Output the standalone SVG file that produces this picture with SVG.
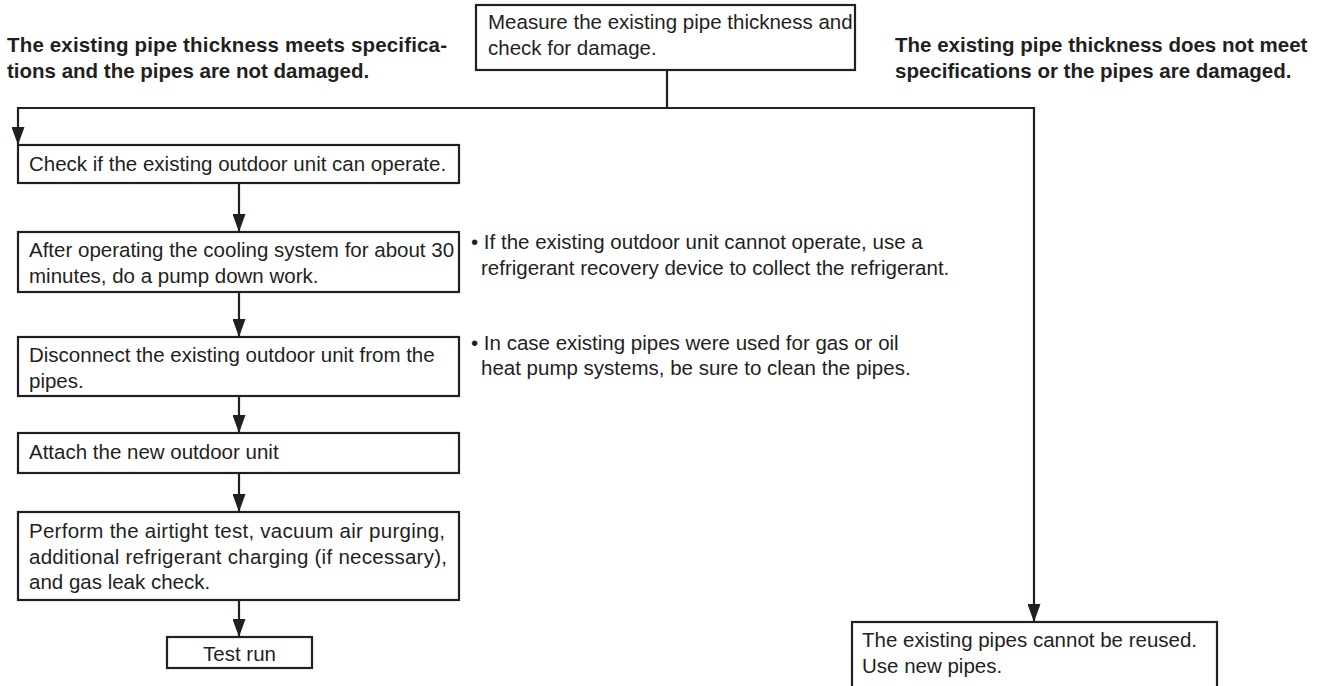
<svg xmlns="http://www.w3.org/2000/svg" width="1319" height="686" viewBox="0 0 1319 686">
<defs>
<style>
.box{fill:#fff;stroke:#231f20;stroke-width:2.2}
.t{font-family:"Liberation Sans",Arial,sans-serif;font-size:20.5px;fill:#231f20}
.h{font-family:"Liberation Sans",Arial,sans-serif;font-size:20.5px;font-weight:bold;fill:#231f20}
.c{fill:none;stroke:#231f20;stroke-width:2.2}
</style>
<marker id="ah" markerWidth="18" markerHeight="13" refX="18" refY="6.5" orient="auto" markerUnits="userSpaceOnUse" viewBox="0 0 18 13">
<path d="M0,0 L18,6.5 L0,13 Z" fill="#231f20"/>
</marker>
</defs>
<rect width="1319" height="686" fill="#fff"/>
<g id="header-left"><text class="h" x="7" y="52" textLength="440" lengthAdjust="spacing">The existing pipe thickness meets specifica-</text><text class="h" x="7" y="78">tions and the pipes are not damaged.</text></g>
<g id="header-right"><text class="h" x="895" y="52">The existing pipe thickness does not meet</text><text class="h" x="895" y="78">specifications or the pipes are damaged.</text></g>
<g id="connectors">
<path class="c" d="M667,70 V108"/>
<path class="c" d="M18,108 H1034"/>
<path class="c" d="M18,107 V145" marker-end="url(#ah)"/>
<path class="c" d="M1034,107 V622" marker-end="url(#ah)"/>
<path class="c" d="M239,183 V232" marker-end="url(#ah)"/>
<path class="c" d="M239,292 V337" marker-end="url(#ah)"/>
<path class="c" d="M239,396 V433" marker-end="url(#ah)"/>
<path class="c" d="M239,473 V512" marker-end="url(#ah)"/>
<path class="c" d="M239,600 V637" marker-end="url(#ah)"/>
</g>
<g id="measure"><rect class="box" x="476" y="5" width="379" height="65"/><text class="t" x="488" y="29">Measure the existing pipe thickness and</text><text class="t" x="488" y="55">check for damage.</text></g>
<g id="check"><rect class="box" x="18" y="145" width="441" height="38"/><text class="t" x="29" y="171">Check if the existing outdoor unit can operate.</text></g>
<g id="pumpdown"><rect class="box" x="18" y="232" width="441" height="60"/><text class="t" x="29" y="257">After operating the cooling system for about 30</text><text class="t" x="29" y="283">minutes, do a pump down work.</text></g>
<g id="disconnect"><rect class="box" x="18" y="337" width="441" height="59"/><text class="t" x="29" y="362">Disconnect the existing outdoor unit from the</text><text class="t" x="29" y="388">pipes.</text></g>
<g id="attach"><rect class="box" x="18" y="433" width="441" height="40"/><text class="t" x="29" y="459">Attach the new outdoor unit</text></g>
<g id="airtight"><rect class="box" x="18" y="512" width="441" height="88"/><text class="t" x="29" y="538" textLength="416" lengthAdjust="spacing">Perform the airtight test, vacuum air purging,</text><text class="t" x="29" y="564" textLength="418" lengthAdjust="spacing">additional refrigerant charging (if necessary),</text><text class="t" x="29" y="589">and gas leak check.</text></g>
<g id="testrun"><rect class="box" x="167" y="637" width="145" height="31"/><text class="t" x="239.5" y="661" text-anchor="middle">Test run</text></g>
<g id="note1"><text class="t" x="471" y="249">• If the existing outdoor unit cannot operate, use a</text><text class="t" x="481" y="275">refrigerant recovery device to collect the refrigerant.</text></g>
<g id="note2"><text class="t" x="471" y="350">• In case existing pipes were used for gas or oil</text><text class="t" x="481" y="375">heat pump systems, be sure to clean the pipes.</text></g>
<g id="newpipes"><rect class="box" x="852" y="622" width="365" height="80"/><text class="t" x="862" y="647">The existing pipes cannot be reused.</text><text class="t" x="862" y="673">Use new pipes.</text></g>
</svg>
